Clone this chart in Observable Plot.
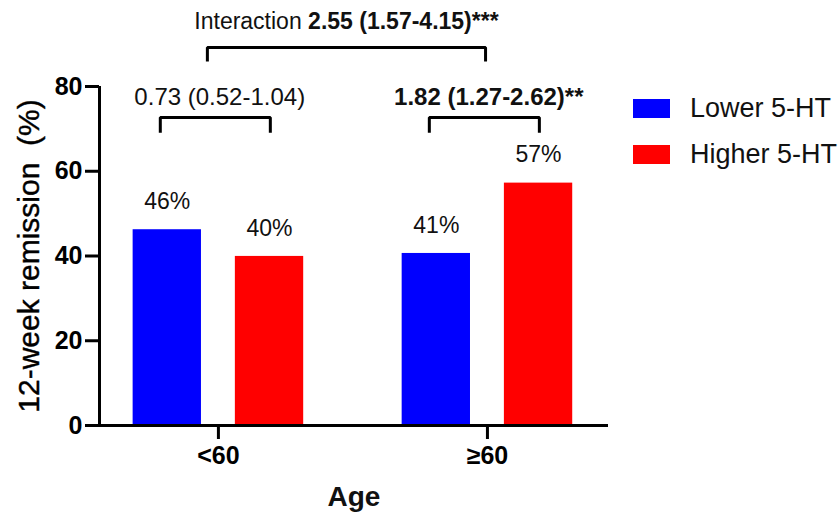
<!DOCTYPE html>
<html>
<head>
<meta charset="utf-8">
<script src="https://cdn.jsdelivr.net/npm/d3@7"></script>
<script src="https://cdn.jsdelivr.net/npm/@observablehq/plot@0.6"></script>
<style>
  html, body { margin: 0; padding: 0; background: #fff; }
  #wrap { position: relative; width: 840px; height: 514px; font-family: "Liberation Sans", Arial, Helvetica, sans-serif; }
  .legend { position: absolute; left: 633px; top: 85px; }
  .legend .item { display: flex; align-items: center; height: 46px; }
  .legend .sw { width: 37px; height: 19px; margin-right: 20px; }
  .legend .lab { font-size: 27px; color: #111; white-space: nowrap; }
</style>
</head>
<body>
<div id="wrap"></div>
<script>
// ---- data ----
const groups = ["<60", "\u226560"];
const series = ["Lower 5-HT", "Higher 5-HT"];
const lowerValues = [46.2, 40.6];
const higherValues = [39.9, 57.2];
const colors = ["#0000FF", "#FF0000"];
const yTicks = [0, 20, 40, 60, 80];
const withinLabels = ["0.73 (0.52-1.04)", "1.82 (1.27-2.62)**"];
const interactionPrefix = "Interaction ";
const interactionValue = "2.55 (1.57-4.15)***";
const yLabel = "12-week remission  (%)";
const xLabel = "Age";

// ---- layout ----
const OFF = 0.19, HALF = 0.127;
const xDomain = [-0.442, 1.45];
const bars = groups.flatMap((g, i) => series.map((s, j) => ({
  group: i, series: s, value: j ? higherValues[i] : lowerValues[i], side: j ? 1 : -1
})));

const brackets = [];
groups.forEach((g, i) => {
  const a = i - 0.216, b = i + 0.193, top = 72.7, bot = 69.1;
  [[a, bot], [a, top], [b, top], [b, bot]].forEach(([x, y]) => brackets.push({id: "g" + i, x, y}));
});
{
  const a = -0.041, b = 0.993, top = 89.2, bot = 85.9;
  [[a, bot], [a, top], [b, top], [b, bot]].forEach(([x, y]) => brackets.push({id: "int", x, y}));
}
const withinData = withinLabels.map((t, i) => ({x: i + 0.005, y: 77.4, text: t, bold: i === 1}));
const fullInteraction = interactionPrefix + interactionValue;

const FONT = "Liberation Sans, Arial, Helvetica, sans-serif";

const chart = Plot.plot({
  width: 840,
  height: 514,
  marginLeft: 99,
  marginRight: 232,
  marginTop: 86,
  marginBottom: 89,
  style: {fontFamily: FONT, background: "white", overflow: "visible", color: "#000"},
  x: {domain: xDomain, axis: null},
  y: {domain: [0, 80], axis: null},
  color: {domain: series, range: colors},
  marks: [
    Plot.rectY(bars, {
      x1: d => d.group + d.side * OFF - HALF,
      x2: d => d.group + d.side * OFF + HALF,
      y: "value",
      fill: "series"
    }),
    Plot.text(bars, {
      x: d => d.group + d.side * OFF,
      y: "value",
      text: d => Math.round(d.value) + "%",
      dy: -28,
      fontSize: 23,
      fill: "#111"
    }),
    Plot.ruleY([0], {strokeWidth: 3}),
    Plot.ruleX([xDomain[0]], {strokeWidth: 3}),
    Plot.axisY({ticks: yTicks, tickSize: 14, tickPadding: 3, strokeWidth: 3, fontSize: 25, fontWeight: "bold", label: null}),
    Plot.axisX({ticks: [0, 1], tickFormat: d => groups[d], tickSize: 14, tickPadding: 7, strokeWidth: 3, fontSize: 25, fontWeight: "bold", label: null}),
    Plot.line(brackets, {x: "x", y: "y", z: "id", stroke: "#000", strokeWidth: 3, strokeLinejoin: "miter", strokeLinecap: "butt"}),
    Plot.text(withinData.filter(d => !d.bold), {x: "x", y: "y", text: "text", fontSize: 24, fill: "#111"}),
    Plot.text(withinData.filter(d => d.bold), {x: "x", y: "y", text: "text", fontSize: 24, fontWeight: "bold", fill: "#111"}),
    Plot.text([fullInteraction], {x: 0.476, y: 95.3, text: d => d, fontSize: 23, fill: "#111"}),
    Plot.text([yLabel], {frameAnchor: "left", dx: -70, rotate: -90, textAnchor: "middle", text: d => d, fontSize: 30, fill: "#000", stroke: "#000", strokeWidth: 0.4}),
    Plot.text([xLabel], {frameAnchor: "bottom", dy: 80, text: d => d, fontSize: 28, fontWeight: "bold", fill: "#111"})
  ]
});

// mixed-weight interaction label
d3.select(chart).selectAll("text").filter(function () { return this.textContent === fullInteraction; })
  .each(function () {
    const t = d3.select(this);
    t.text(null);
    t.append("tspan").text(interactionPrefix);
    t.append("tspan").attr("font-weight", "bold").text(interactionValue);
  });

const wrap = document.getElementById("wrap");
wrap.appendChild(chart);

const legend = document.createElement("div");
legend.className = "legend";
series.forEach((s, i) => {
  const item = document.createElement("div");
  item.className = "item";
  const sw = document.createElement("div");
  sw.className = "sw";
  sw.style.background = colors[i];
  const lab = document.createElement("span");
  lab.className = "lab";
  lab.textContent = s;
  item.appendChild(sw);
  item.appendChild(lab);
  legend.appendChild(item);
});
wrap.appendChild(legend);
</script>
</body>
</html>
